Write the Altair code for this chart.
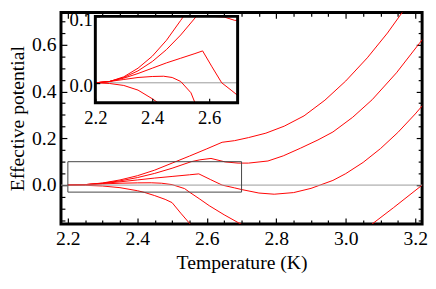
import altair as alt
import pandas as pd

FONT = "Liberation Serif"

# ---- curves: temperature (K) -> effective potential ----
A_T = [2.2, 2.25, 2.3, 2.35, 2.4, 2.45, 2.5, 2.51, 2.55, 2.6, 2.644, 2.68, 2.72, 2.77, 2.823, 2.88, 2.94, 3.0, 3.062, 3.12, 3.175, 3.2, 3.23]
A_V = [0.0, 0.002, 0.009, 0.022, 0.040, 0.064, 0.094, 0.100, 0.124, 0.155, 0.183, 0.190, 0.203, 0.222, 0.252, 0.296, 0.363, 0.445, 0.544, 0.650, 0.764, 0.820, 0.890]

B_T = [2.2, 2.25, 2.3, 2.35, 2.4, 2.45, 2.5, 2.555, 2.58, 2.612, 2.653, 2.69, 2.72, 2.776, 2.82, 2.87, 2.92, 2.963, 3.02, 3.076, 3.146, 3.212, 3.23]
B_V = [0.0, 0.002, 0.008, 0.018, 0.032, 0.050, 0.072, 0.100, 0.108, 0.114, 0.099, 0.094, 0.094, 0.103, 0.125, 0.158, 0.193, 0.227, 0.290, 0.365, 0.480, 0.606, 0.640]

C_T = [2.2, 2.25, 2.3, 2.35, 2.4, 2.45, 2.5, 2.55, 2.577, 2.61, 2.644, 2.68, 2.7, 2.75, 2.794, 2.85, 2.9, 2.926, 2.963, 3.0, 3.05, 3.1, 3.15, 3.2, 3.23]
C_V = [0.0, 0.002, 0.007, 0.014, 0.022, 0.030, 0.037, 0.044, 0.048, 0.024, 0.0, -0.012, -0.019, -0.034, -0.039, -0.032, -0.014, 0.0, 0.020, 0.049, 0.097, 0.156, 0.225, 0.304, 0.356]

D1_T = [2.2, 2.25, 2.3, 2.35, 2.4, 2.44, 2.47, 2.5, 2.536, 2.55, 2.58, 2.607, 2.65, 2.691, 2.71]
D1_V = [0.0, 0.002, 0.005, 0.008, 0.0095, 0.0099, 0.008, 0.002, -0.015, -0.030, -0.060, -0.088, -0.127, -0.161, -0.176]

D2_T = [3.065, 3.071, 3.137, 3.208, 3.23]
D2_V = [-0.179, -0.172, -0.097, -0.014, 0.012]

E_T = [2.2, 2.25, 2.3, 2.35, 2.4, 2.42, 2.45, 2.48, 2.5, 2.525, 2.55, 2.565]
E_V = [0.0, -0.001, -0.004, -0.011, -0.024, -0.031, -0.045, -0.061, -0.075, -0.120, -0.163, -0.190]

CURVES = [("A", A_T, A_V), ("B", B_T, B_V), ("C", C_T, C_V),
          ("D1", D1_T, D1_V), ("D2", D2_T, D2_V), ("E", E_T, E_V)]

# ---- axes ----
MAIN_X = [2.1802, 3.2198]
MAIN_Y = [-0.166, 0.738]
X_MAJOR = [2.2, 2.4, 2.6, 2.8, 3.0, 3.2]
X_MINOR = [2.25, 2.3, 2.35, 2.45, 2.5, 2.55, 2.65, 2.7, 2.75, 2.85, 2.9, 2.95, 3.05, 3.1, 3.15]
Y_MAJOR = [0.0, 0.2, 0.4, 0.6]
Y_MINOR = [-0.15, -0.1, -0.05, 0.05, 0.1, 0.15, 0.25, 0.3, 0.35, 0.45, 0.5, 0.55, 0.65, 0.7]

INSET_X = [2.2, 2.7]
INSET_Y = [-0.03, 0.1]
INSET_X_TICKS = [2.2, 2.4, 2.6]
INSET_Y_TICKS = [0.0, 0.1]

W, H = 368, 215.5
INSET_RX = [35, 180]
INSET_RY = [92, 4]
LMAJ, LMIN, LIN = 6, 4, 4.5

df = pd.DataFrame([{"curve": n, "T": t, "V": v}
                   for n, T, V in CURVES for t, v in zip(T, V)])
box_df = pd.DataFrame({"x1": [INSET_X[0]], "x2": [INSET_X[1]],
                       "y1": [INSET_Y[0]], "y2": [INSET_Y[1]], "V": [0.0]})
zero_df = pd.DataFrame({"V": [0.0]})
anchor_df = pd.DataFrame({"T": [2.5], "V": [0.3]})

sx = alt.Scale(domain=MAIN_X, nice=False, zero=False)
sy = alt.Scale(domain=MAIN_Y, nice=False, zero=False)


def tick_axis(orient, values, size, labels, **kw):
    return alt.Axis(orient=orient, values=values, offset=-size, tickSize=size,
                    tickWidth=1.2, tickColor="black", domain=False, grid=False,
                    labels=labels, labelFlush=False, labelOverlap=False, format=".1f", **kw)


# main panel: axis settings live on the line layer, the others inherit them
lines = alt.Chart(df).mark_line(color="#ff0000", strokeWidth=1, clip=True).encode(
    x=alt.X("T:Q", scale=sx, axis=tick_axis("bottom", X_MAJOR, LMAJ, True, labelPadding=5,
                                            title="Temperature (K)", titlePadding=4)),
    y=alt.Y("V:Q", scale=sy, axis=tick_axis("left", Y_MAJOR, LMAJ, True, labelPadding=5,
                                            title="Effective potential", titlePadding=4)),
    detail="curve:N",
)
zero = alt.Chart(zero_df).mark_rule(color="#999999", strokeWidth=1).encode(
    y=alt.Y("V:Q", scale=sy))
box = alt.Chart(box_df).mark_rect(fillOpacity=0, stroke="#444444", strokeWidth=1).encode(
    x=alt.X("x1:Q", scale=sx), x2="x2:Q",
    y=alt.Y("y1:Q", scale=sy), y2="y2:Q")
main = alt.layer(lines, zero, box)


def ticks_only(xo, yo, xv, yv, size):
    return alt.Chart(anchor_df).mark_point(opacity=0).encode(
        x=alt.X("T:Q", scale=sx, axis=tick_axis(xo, xv, size, False, title=None)),
        y=alt.Y("V:Q", scale=sy, axis=tick_axis(yo, yv, size, False, title=None)))


mirror = ticks_only("top", "right", X_MAJOR, Y_MAJOR, LMAJ)
minor_bl = ticks_only("bottom", "left", X_MINOR, Y_MINOR, LMIN)
minor_tr = ticks_only("top", "right", X_MINOR, Y_MINOR, LMIN)

# ---- inset ----
sxi = alt.Scale(domain=INSET_X, range=INSET_RX, clamp=True, nice=False, zero=False)
syi = alt.Scale(domain=INSET_Y, range=INSET_RY, clamp=True, nice=False, zero=False)

ilines = alt.Chart(df).transform_filter("datum.T <= 2.75").mark_line(
    color="#ff0000", strokeWidth=1).encode(
    x=alt.X("T:Q", scale=sxi, axis=alt.Axis(
        orient="bottom", values=INSET_X_TICKS, offset=-(H - INSET_RY[0]) - LIN, tickSize=LIN,
        tickWidth=1.2, tickColor="black", domain=False, grid=False, labelPadding=6,
        labelFontSize=19, labelFlush=False, labelOverlap=False, format=".1f", zindex=1, title=None)),
    y=alt.Y("V:Q", scale=syi, axis=alt.Axis(
        orient="left", values=INSET_Y_TICKS, offset=-INSET_RX[0] - LIN, tickSize=LIN,
        tickWidth=1.2, tickColor="black", domain=False, grid=False, labelPadding=3,
        labelOffset=3, labelFontSize=19, labelFlush=False, labelOverlap=False,
        format=".1f", zindex=1, title=None)),
    detail="curve:N",
)
bg = alt.Chart(box_df).mark_rect(fill="white", strokeOpacity=0).encode(
    x=alt.X("x1:Q", scale=sxi), x2="x2:Q",
    y=alt.Y("y1:Q", scale=syi), y2="y2:Q")
izero = alt.Chart(box_df).mark_rule(color="#999999", strokeWidth=1).encode(
    x=alt.X("x1:Q", scale=sxi), x2="x2:Q",
    y=alt.Y("V:Q", scale=syi))
frame = alt.Chart(box_df).mark_rect(fillOpacity=0, stroke="black", strokeWidth=3).encode(
    x=alt.X("x1:Q", scale=sxi), x2="x2:Q",
    y=alt.Y("y1:Q", scale=syi), y2="y2:Q")
inset = alt.layer(bg, izero, ilines, frame)

chart = alt.layer(main, mirror, minor_bl, minor_tr, inset).resolve_scale(
    x="independent", y="independent"
).properties(
    width=W, height=H, padding=0,
).configure_view(
    stroke="black", strokeWidth=3
).configure_axis(
    labelFont=FONT, titleFont=FONT, labelFontSize=20, titleFontSize=20,
    labelColor="black", titleColor="black", titleFontWeight="normal"
)

chart.save("out.html", embed_options={"renderer": "svg", "actions": False})
